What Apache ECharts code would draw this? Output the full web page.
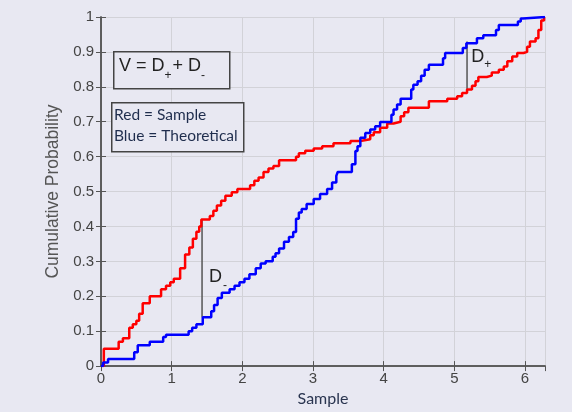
<!DOCTYPE html>
<html><head><meta charset="utf-8">
<script src="https://cdn.jsdelivr.net/npm/echarts@6/dist/echarts.min.js"></script>
<style>html,body{margin:0;padding:0;background:#e8e8f2;}#c{width:572px;height:412px;}</style>
</head><body><div id="c"></div>
<script>
const xTicks = [0, 1, 2, 3, 4, 5, 6];
const yTicks = [0, 0.1, 0.2, 0.3, 0.4, 0.5, 0.6, 0.7, 0.8, 0.9, 1];
const xMax = 6.2832;

const redX = [0,0.04,0.25,0.31,0.40,0.45,0.50,0.54,0.59,0.69,0.85,0.92,0.98,1.03,1.12,1.19,1.25,1.30,1.35,1.39,1.42,1.54,1.59,1.64,1.70,1.76,1.85,1.93,2.11,2.17,2.23,2.30,2.37,2.44,2.52,2.76,2.80,2.89,3.01,3.13,3.29,3.53,3.67,3.81,3.86,3.95,4.05,4.14,4.24,4.29,4.35,4.64,4.90,5.04,5.11,5.18,5.25,5.30,5.34,5.46,5.53,5.63,5.70,5.75,5.82,5.89,5.98,6.03,6.07,6.15,6.19,6.23,6.27];
const redY = [0,0.05,0.07,0.08,0.11,0.12,0.13,0.15,0.18,0.20,0.22,0.23,0.24,0.25,0.28,0.32,0.34,0.365,0.385,0.40,0.42,0.43,0.445,0.46,0.474,0.488,0.498,0.507,0.518,0.531,0.54,0.556,0.566,0.573,0.59,0.60,0.61,0.617,0.623,0.63,0.638,0.645,0.65,0.661,0.67,0.683,0.695,0.70,0.716,0.727,0.74,0.759,0.766,0.773,0.782,0.792,0.803,0.816,0.828,0.832,0.841,0.849,0.858,0.873,0.887,0.897,0.90,0.915,0.93,0.939,0.963,0.99,1.0];

const blueX = [0,0.03,0.10,0.47,0.52,0.69,0.88,0.92,1.24,1.29,1.35,1.44,1.56,1.60,1.65,1.71,1.82,1.89,1.96,2.03,2.10,2.19,2.26,2.33,2.43,2.47,2.52,2.59,2.66,2.72,2.76,2.80,2.84,2.91,3.01,3.10,3.20,3.27,3.33,3.35,3.55,3.60,3.63,3.67,3.74,3.81,3.88,3.95,4.11,4.14,4.19,4.24,4.39,4.42,4.48,4.53,4.58,4.64,4.84,4.87,5.12,5.17,5.32,5.41,5.59,5.63,5.90,5.94,5.97,6.2832];
const blueY = [0,0.01,0.02,0.04,0.06,0.07,0.083,0.09,0.10,0.11,0.12,0.14,0.157,0.175,0.195,0.21,0.22,0.23,0.24,0.25,0.263,0.28,0.294,0.30,0.313,0.323,0.337,0.356,0.37,0.384,0.422,0.44,0.45,0.464,0.479,0.493,0.507,0.526,0.545,0.556,0.578,0.616,0.63,0.654,0.668,0.678,0.687,0.699,0.72,0.735,0.749,0.766,0.792,0.806,0.816,0.832,0.849,0.863,0.882,0.897,0.911,0.925,0.939,0.948,0.963,0.977,0.987,0.996,1.0,1.0];

const dMinusX = 1.43, dMinusY = [0.14, 0.42];
const dPlusX = 5.18, dPlusY = [0.79, 0.93];
const dMinusLabelPos = [1.53, 0.28];
const dPlusLabelPos = [5.24, 0.91];

const zip = (xs, ys) => xs.map((x, i) => [x, ys[i]]);
const axisCol = '#555';
const bg = '#e8e8f2';
const chart = echarts.init(document.getElementById('c'), null, {renderer: 'canvas'});

const baseX = {type: 'value', min: 0, max: xMax, interval: 1};
const baseY = {type: 'value', min: 0, max: 1, interval: 0.1};

const subRich = {
  n: {fontFamily: 'Liberation Sans', fontSize: 18, fill: '#222'},
  s: {fontFamily: 'Liberation Sans', fontSize: 12, fill: '#222', padding: [20, 1, 0, 0]}
};

chart.setOption({
  backgroundColor: bg,
  animation: false,
  grid: {left: 101, top: 17, right: 27, bottom: 44},
  xAxis: [
    Object.assign({}, baseX, {
      position: 'bottom',
      name: 'Sample', nameLocation: 'middle', nameGap: 23,
      nameTextStyle: {fontFamily: 'Lato', fontSize: 16, color: '#2a3550'},
      axisLine: {show: true, lineStyle: {color: axisCol, width: 1.5}},
      axisTick: {show: true, inside: true, length: 5, lineStyle: {color: axisCol}},
      axisLabel: {margin: 5, fontFamily: 'Liberation Sans', fontSize: 15, color: '#444', showMaxLabel: false,
        formatter: v => xTicks.includes(v) ? String(v) : ''},
      splitLine: {show: true, lineStyle: {color: '#d2d2d8', width: 1}}
    }),
    Object.assign({}, baseX, {
      position: 'top',
      axisLine: {show: true, lineStyle: {color: axisCol, width: 1.5}},
      axisTick: {show: true, inside: true, length: 5, lineStyle: {color: axisCol}},
      axisLabel: {show: false}, splitLine: {show: false}
    })
  ],
  yAxis: [
    Object.assign({}, baseY, {
      position: 'left',
      name: 'Cumulative Probability', nameLocation: 'middle', nameGap: 36,
      nameTextStyle: {fontFamily: 'Liberation Sans', fontSize: 17.5, color: '#555'},
      axisLine: {show: true, lineStyle: {color: axisCol, width: 1.5}},
      axisTick: {show: true, inside: true, length: 5, lineStyle: {color: axisCol}},
      axisLabel: {margin: 7, fontFamily: 'Liberation Sans', fontSize: 15, color: '#444',
        formatter: v => { const t = yTicks.find(q => Math.abs(q - v) < 1e-9); return t === undefined ? '' : String(t); }},
      splitLine: {show: true, lineStyle: {color: '#d2d2d8', width: 1}}
    }),
    Object.assign({}, baseY, {
      position: 'right',
      axisLine: {show: true, lineStyle: {color: axisCol, width: 1.5}},
      axisTick: {show: true, inside: true, length: 5, lineStyle: {color: axisCol}},
      axisLabel: {show: false}, splitLine: {show: false}
    })
  ],
  series: [
    {type: 'line', step: 'end', data: zip(redX, redY), showSymbol: false, symbol: 'none',
     lineStyle: {color: '#ff0000', width: 2.5}, z: 3},
    {type: 'line', step: 'end', data: zip(blueX, blueY), showSymbol: false, symbol: 'none',
     lineStyle: {color: '#0000ff', width: 2.5}, z: 3},
    {type: 'line', data: [[dMinusX, dMinusY[0]], [dMinusX, dMinusY[1]]], symbol: 'none',
     lineStyle: {color: '#555', width: 1.5}, z: 2},
    {type: 'line', data: [[dPlusX, dPlusY[0]], [dPlusX, dPlusY[1]]], symbol: 'none',
     lineStyle: {color: '#555', width: 1.5}, z: 2}
  ],
  graphic: [
    {type: 'rect', left: 113, top: 51, z: 100, shape: {width: 116, height: 37},
     style: {fill: bg, stroke: '#444', lineWidth: 1.5}},
    {type: 'text', left: 119, top: 57, z: 101,
     style: {text: '{n|V = D}{s|+}{n|+ D}{s|-}', rich: subRich}},
    {type: 'rect', left: 111, top: 102, z: 100, shape: {width: 132, height: 49},
     style: {fill: bg, stroke: '#444', lineWidth: 1.5}},
    {type: 'text', left: 114, top: 104, z: 101,
     style: {text: 'Red = Sample\nBlue = Theoretical', fontFamily: 'Lato', fontSize: 15.5, lineHeight: 21, fill: '#1f2d4d'}}
  ]
});

const pm = chart.convertToPixel({gridIndex: 0}, dMinusLabelPos);
const pp = chart.convertToPixel({gridIndex: 0}, dPlusLabelPos);
const dStyle = {fontFamily: 'Liberation Sans', fontSize: 18, fill: '#222'};
const sStyle = {fontFamily: 'Liberation Sans', fontSize: 12, fill: '#222'};
chart.setOption({
  graphic: [
    {type: 'text', id: 'dm', x: pm[0], y: pm[1], z: 101,
     style: Object.assign({text: 'D', verticalAlign: 'top'}, dStyle)},
    {type: 'text', id: 'dms', x: pm[0] + 14, y: pm[1] + 11, z: 102,
     style: Object.assign({text: '-', verticalAlign: 'top'}, sStyle)},
    {type: 'text', id: 'dp', x: pp[0], y: pp[1], z: 101,
     style: Object.assign({text: 'D', verticalAlign: 'top'}, dStyle)},
    {type: 'text', id: 'dps', x: pp[0] + 13, y: pp[1] + 10, z: 102,
     style: Object.assign({text: '+', verticalAlign: 'top'}, sStyle)}
  ]
});
</script></body></html>
